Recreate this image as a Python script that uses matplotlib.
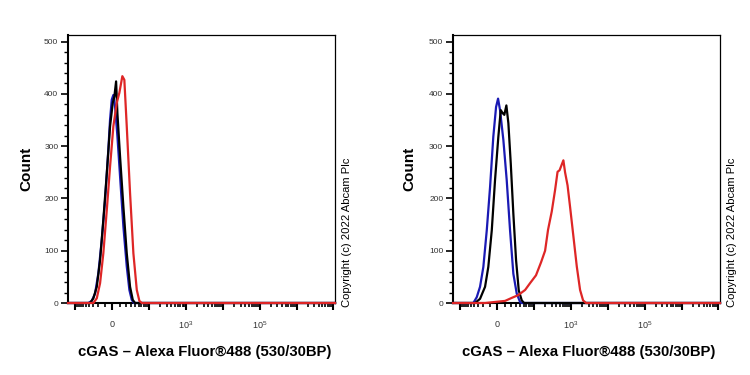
import numpy as np
import matplotlib.pyplot as plt
from matplotlib.ticker import FixedLocator, FixedFormatter, MultipleLocator

plt.rcParams['font.family'] = ['Liberation Sans', 'DejaVu Sans']

# histogram outlines (fluorescence, count)
left_blue_x = [-42.6, -33.5, -26.1, -19.8, -14.2, -9.4, -5.1, -2.9, -0.75, 1.25, 3.4, 6.4, 10.0, 14.9, 20.5, 25.5, 30.6, 36.2]
left_blue_y = [0, 4, 18, 57, 121, 197, 293, 351, 389, 398, 376, 319, 242, 146, 70, 25, 6, 0]
left_black_x = [-37.8, -29.7, -22.7, -16.9, -11.9, -7.1, -2.9, 0.5, 2.5, 4.7, 6.4, 10.0, 14.9, 20.5, 26.9, 33.0, 38.9]
left_black_y = [0, 9, 31, 82, 159, 248, 338, 383, 395, 424, 363, 280, 184, 95, 31, 6, 0]
left_red_x = [-29.7, -22.7, -16.9, -11.9, -7.1, -2.9, 1.25, 5.6, 9.0, 13.3, 16.4, 20.5, 26.9, 34.5, 43.8, 52.2, 61.2]
left_red_y = [0, 9, 38, 95, 178, 261, 338, 383, 402, 434, 427, 338, 210, 95, 25, 4, 0]

right_blue_x = [-42.6, -33.5, -26.1, -19.8, -14.2, -9.4, -5.1, -1.6, 0.9, 3.4, 7.7, 12.4, 17.6, 23.5, 30.6, 38.9, 43.8]
right_blue_y = [0, 11, 31, 69, 139, 222, 318, 375, 391, 369, 312, 235, 139, 56, 18, 2, 0]
right_black_x = [-37.8, -26.1, -16.9, -11.9, -7.1, -2.9, 1.25, 4.3, 6.9, 9.0, 11.9, 14.9, 18.8, 23.5, 29.1, 35.5, 43.8, 51.2]
right_black_y = [0, 8, 31, 69, 139, 235, 318, 369, 363, 360, 378, 344, 267, 171, 82, 24, 5, 0]
right_red_x = [-16.9, -2.9, 10, 21, 34, 55, 76, 111, 153, 197, 237, 299, 368, 430, 488, 560, 619, 688, 804, 940, 1156, 1430, 1757, 2119, 2556]
right_red_y = [0, 2, 4, 10, 15, 25, 38, 53, 78, 100, 140, 175, 216, 251, 254, 265, 273, 250, 225, 184, 128, 70, 25, 5, 0]

x_major = [-100, 0, 100, 1e3, 1e4, 1e5, 1e6, 1e7]
x_labels = ['', '0', '', r'$\mathregular{10^3}$', '', r'$\mathregular{10^5}$', '', '']
x_minor = [s * v for v in range(10, 100, 10) for s in (-1, 1)] + \
          [m * 10 ** k for k in range(2, 7) for m in range(2, 10)]

xlabel = 'cGAS \u2013 Alexa Fluor\u00ae488 (530/30BP)'
copyright = 'Copyright (c) 2022 Abcam Plc'

XMIN, XMAX = -159, 1.1e7
colors = {'blue': '#1a1ab4', 'black': '#000000', 'red': '#de2626'}


def draw_panel(ax, curves, ylab_x):
    for color, xs, ys in curves:
        xs = np.concatenate([[XMIN], xs, [XMAX]])
        ys = np.concatenate([[0], ys, [0]])
        ax.plot(xs, ys, color=colors[color], lw=1.6, clip_on=False, zorder=3)

    ax.set_xscale('asinh', linear_width=20)
    ax.set_xlim(XMIN, XMAX)
    ax.set_ylim(0, 513)

    ax.xaxis.set_major_locator(FixedLocator(x_major))
    ax.xaxis.set_major_formatter(FixedFormatter(x_labels))
    ax.xaxis.set_minor_locator(FixedLocator(x_minor))
    ax.yaxis.set_major_locator(MultipleLocator(100))
    ax.yaxis.set_minor_locator(MultipleLocator(20))

    ax.tick_params(axis='x', which='major', length=5, width=1.5, pad=7,
                   labelsize=6.5, labelcolor='#333333')
    ax.tick_params(axis='x', which='minor', length=3, width=1.2)
    ax.tick_params(axis='y', which='major', length=5, width=1.2, pad=2,
                   labelsize=6, labelcolor='#333333')
    ax.tick_params(axis='y', which='minor', length=3, width=1.0)

    for side in ['left', 'bottom']:
        ax.spines[side].set_linewidth(1.5)
    for side in ['top', 'right']:
        ax.spines[side].set_linewidth(0.9)

    ax.set_ylabel('Count', fontsize=11, fontweight='bold')
    ax.yaxis.set_label_coords(ylab_x, 0.5)
    ax.set_xlabel(xlabel, fontsize=10.7, fontweight='bold')
    ax.xaxis.set_label_coords(0.51, -0.183)
    ax.xaxis.label.set_va('center')
    ax.text(1.045, -0.015, copyright, transform=ax.transAxes, rotation=90,
            ha='center', va='bottom', fontsize=8.1)


fig = plt.figure(figsize=(7.5, 3.75), dpi=100)
ax1 = fig.add_axes([0.0907, 0.192, 0.356, 0.715])
ax2 = fig.add_axes([0.604, 0.192, 0.356, 0.715])

draw_panel(ax1, [('blue', left_blue_x, left_blue_y),
                 ('black', left_black_x, left_black_y),
                 ('red', left_red_x, left_red_y)], -0.131)
draw_panel(ax2, [('blue', right_blue_x, right_blue_y),
                 ('black', right_black_x, right_black_y),
                 ('red', right_red_x, right_red_y)], -0.137)

fig.savefig('out.png', dpi=100)
